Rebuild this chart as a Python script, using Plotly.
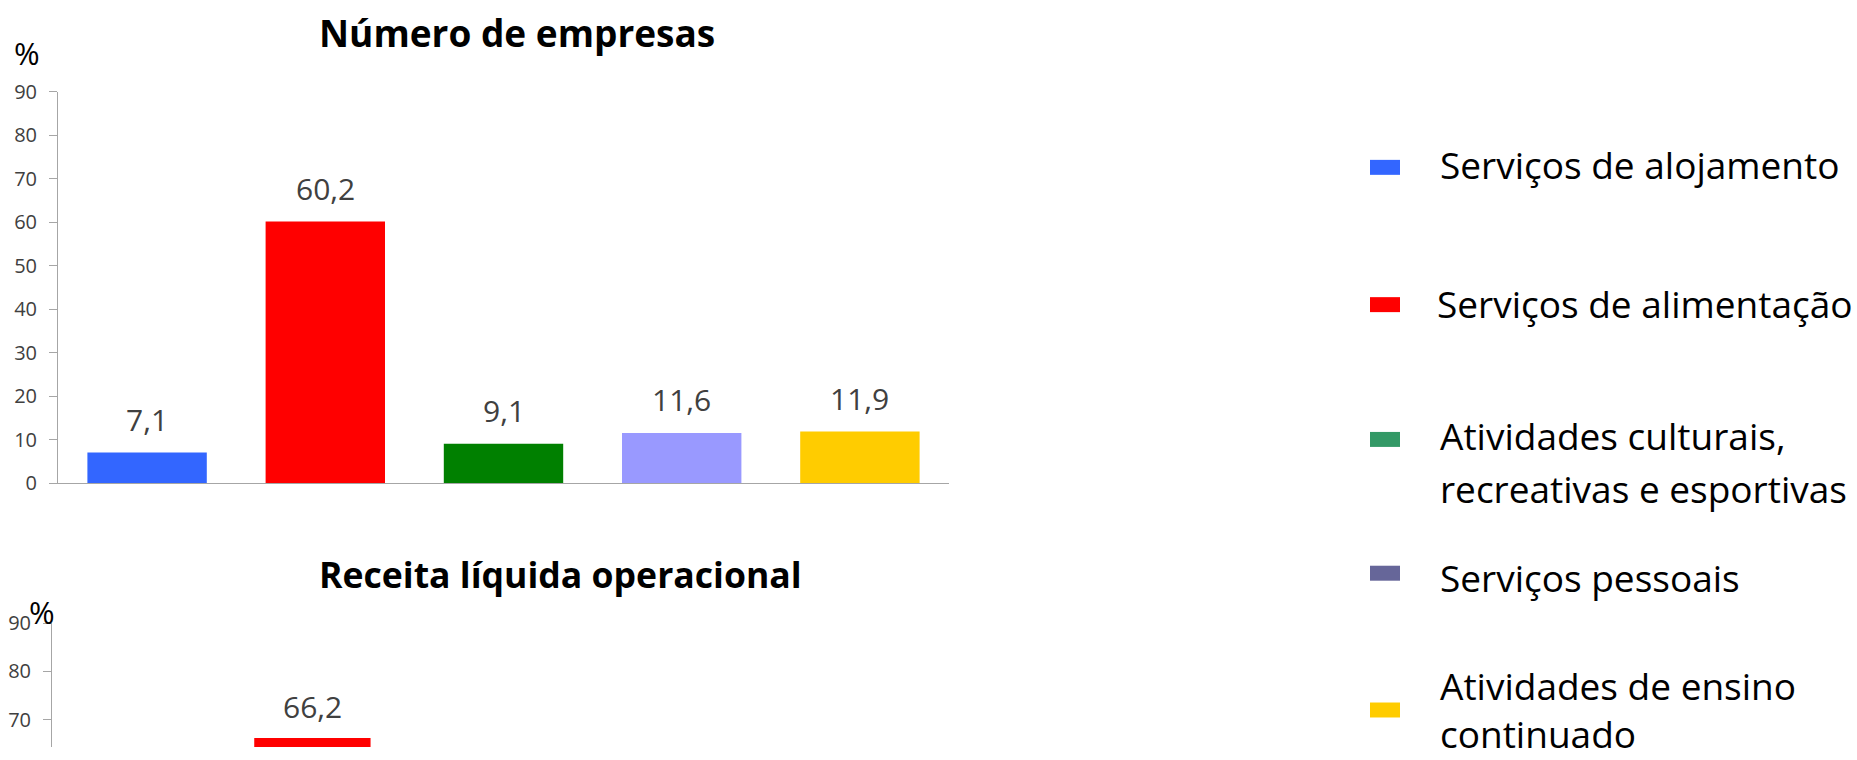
import plotly.graph_objects as go

# categories and values (%)
categorias = [
    "Serviços de alojamento",
    "Serviços de alimentação",
    "Atividades culturais, recreativas e esportivas",
    "Serviços pessoais",
    "Atividades de ensino continuado",
]
legenda_linhas = [
    ["Serviços de alojamento"],
    ["Serviços de alimentação"],
    ["Atividades culturais,", "recreativas e esportivas"],
    ["Serviços pessoais"],
    ["Atividades de ensino<br>continuado"],
]
num_empresas = [7.1, 60.2, 9.1, 11.6, 11.9]
receita_liquida = [12.6, 66.2, 9.5, 5.0, 6.7]  # only 66,2 is readable; rest is cut off
cores_barras = ["#3366FF", "#FF0000", "#008000", "#9999FF", "#FFCC00"]
cores_legenda = ["#3366FF", "#FF0000", "#339966", "#666699", "#FFCC00"]

W, H = 1857, 760
FONT = "Open Sans"
CINZA = "#404040"
LINHA = "#A6A6A6"
# the captured page comes out slightly squeezed vertically; compensate
SY, OY = 0.966, 12.9


def fx(px):
    return px / W


def fy(py):
    return 1 - (py - OY) / SY / H


def rotulo(v):
    return f"{v:.1f}".replace(".", ",")


fig = go.Figure()
fig.add_bar(x=categorias, y=num_empresas, marker=dict(color=cores_barras, line_width=0),
            xaxis="x", yaxis="y", showlegend=False, hoverinfo="skip")
fig.add_bar(x=categorias, y=receita_liquida, marker=dict(color=cores_barras, line_width=0),
            xaxis="x2", yaxis="y2", showlegend=False, hoverinfo="skip")

annotations = []
for cat, v in zip(categorias, num_empresas):
    annotations.append(dict(x=cat, y=v, xref="x", yref="y", text=rotulo(v), showarrow=False,
                            yanchor="middle", yshift=33, font=dict(size=30, color=CINZA)))
for cat, v in zip(categorias, receita_liquida):
    annotations.append(dict(x=cat, y=v, xref="x2", yref="y2", text=rotulo(v), showarrow=False,
                            yanchor="middle", yshift=31, font=dict(size=30, color=CINZA)))

# titles and % units
annotations += [
    dict(x=fx(317), y=fy(31), xref="paper", yref="paper", xanchor="left", yanchor="middle",
         text="<b>Número de empresas</b>", showarrow=False, font=dict(size=37, color="black")),
    dict(x=fx(317), y=fy(574), xref="paper", yref="paper", xanchor="left", yanchor="middle",
         text="<b>Receita líquida operacional</b>", showarrow=False,
         font=dict(size=35.6, color="black")),
    dict(x=fx(27), y=fy(52), xref="paper", yref="paper", xanchor="center", yanchor="middle",
         text="%", showarrow=False, font=dict(size=31, color="black")),
    dict(x=fx(42), y=fy(612), xref="paper", yref="paper", xanchor="center", yanchor="middle",
         text="%", showarrow=False, font=dict(size=31, color="black")),
]

# manual legend (swatch + text lines)
swatch_y = [166.5, 304, 439, 573, 710]
texto_y = [164, 303, 435, 577, 709]
passo_linha = 53
texto_x = [1438, 1435, 1438, 1438, 1438]
shapes = []
for cor, sy, ty, tx, linhas in zip(cores_legenda, swatch_y, texto_y, texto_x, legenda_linhas):
    shapes.append(dict(type="rect", xref="paper", yref="paper", x0=fx(1370), x1=fx(1400),
                       y0=fy(sy + 7.5), y1=fy(sy - 7.5), fillcolor=cor, line_width=0))
    for i, linha in enumerate(linhas):
        annotations.append(dict(x=fx(tx), y=fy(ty + i * passo_linha), xref="paper", yref="paper",
                                xanchor="left", yanchor="middle", align="left", text=linha,
                                showarrow=False, font=dict(size=37, color="black")))

eixo_y = dict(showgrid=False, zeroline=False, showline=True, linecolor=LINHA, linewidth=1,
              ticks="outside", ticklen=8, tickcolor=LINHA, dtick=10, tick0=0,
              tickfont=dict(size=20, color=CINZA), ticklabelstandoff=8)

# bottom chart: 10 units = 48.3 px, top (90) at y=623, cut by the page bottom
y2_min = 90 - ((OY + SY * H) - 623) / 4.83

fig.update_layout(
    width=W, height=H,
    margin=dict(l=0, r=0, t=0, b=0),
    paper_bgcolor="white", plot_bgcolor="white",
    font=dict(family=FONT),
    bargap=0.33,
    xaxis=dict(domain=[fx(58), fx(949)], showgrid=False, zeroline=False, showline=True,
               linecolor=LINHA, linewidth=1, showticklabels=False, ticks=""),
    yaxis=dict(domain=[fy(483), fy(91)], range=[0, 90], **eixo_y),
    xaxis2=dict(domain=[fx(52), fx(920)], anchor="y2", showgrid=False, zeroline=False,
                showline=False, showticklabels=False, ticks=""),
    yaxis2=dict(domain=[0, fy(623)], range=[y2_min, 90.01], anchor="x2", **eixo_y),
    annotations=annotations,
    shapes=shapes,
)

fig.write_html("out.html", config={"displayModeBar": False},
               post_script="document.body.style.margin='0';document.body.style.overflow='hidden';")
